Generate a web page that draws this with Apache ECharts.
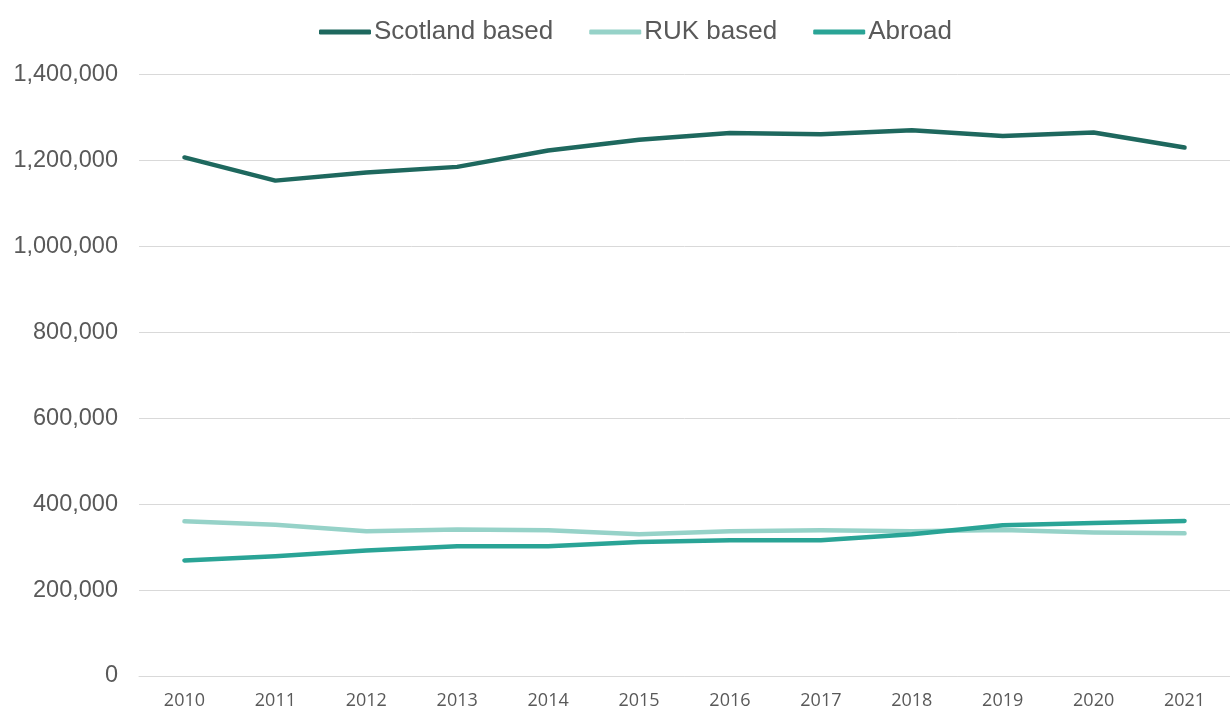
<!DOCTYPE html>
<html>
<head>
<meta charset="utf-8">
<script src="https://cdn.jsdelivr.net/npm/echarts@6/dist/echarts.min.js"></script>
<style>
html,body{margin:0;padding:0;background:#fff;}
#chart{width:1230px;height:710px;}
</style>
</head>
<body>
<div id="chart"></div>
<script>
var years = ['2010','2011','2012','2013','2014','2015','2016','2017','2018','2019','2020','2021'];
var scotlandBased = [1207000,1153000,1172000,1185000,1223000,1248000,1264000,1261000,1270000,1257000,1265000,1230000];
var rukBased = [360000,352000,337000,341000,339000,330000,337000,339000,337000,340000,334000,332000];
var abroad = [269000,279000,292000,302000,302000,312000,316000,316000,330000,351000,356000,361000];
var seriesNames = ['Scotland based','RUK based','Abroad'];
var yTicks = {min:0, max:1400000, interval:200000};

var colors = ['#1E685E','#96D2C8','#2AA496'];
var chart = echarts.init(document.getElementById('chart'));
function fmt(v){ return v.toLocaleString('en-GB'); }
function mkSeries(name, data, color){
  return {
    name:name, type:'line', data:data, symbol:'none', smooth:false,
    lineStyle:{color:color, width:4.5, cap:'round', join:'round'},
    itemStyle:{color:color}
  };
}
chart.setOption({
  animation:false,
  backgroundColor:'#ffffff',
  color:colors,
  legend:{
    data:seriesNames,
    left:314, top:14,
    icon:'roundRect', itemWidth:52, itemHeight:5, itemGap:36,
    textStyle:{fontFamily:'Liberation Sans, Arial', fontSize:26, color:'#595959', padding:[0,0,0,-2]}
  },
  grid:{left:139, top:74.5, width:1105, height:602.2, containLabel:false},
  xAxis:{
    type:'category', data:years, boundaryGap:true,
    axisLine:{show:true, lineStyle:{color:'#D9D9D9', width:1}},
    axisTick:{show:false},
    axisLabel:{fontFamily:'Open Sans', fontSize:18, color:'#595959', margin:16}
  },
  yAxis:{
    type:'value', min:yTicks.min, max:yTicks.max, interval:yTicks.interval,
    axisLine:{show:false}, axisTick:{show:false},
    splitLine:{lineStyle:{color:'#D9D9D9', width:1}},
    axisLabel:{fontFamily:'Liberation Sans, Arial', fontSize:23.5, color:'#595959', margin:21, formatter:fmt}
  },
  series:[
    mkSeries(seriesNames[0], scotlandBased, colors[0]),
    mkSeries(seriesNames[1], rukBased, colors[1]),
    mkSeries(seriesNames[2], abroad, colors[2])
  ]
});
</script>
</body>
</html>
